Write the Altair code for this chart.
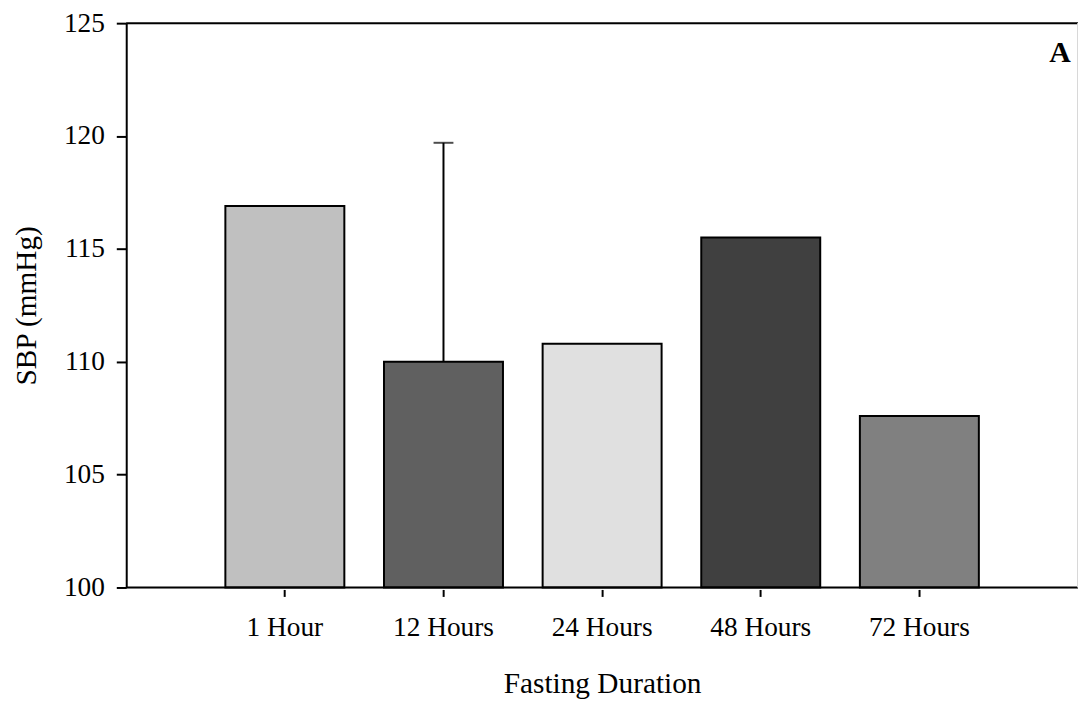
import altair as alt
import pandas as pd

categories = ["1 Hour", "12 Hours", "24 Hours", "48 Hours", "72 Hours"]
sbp = [116.9, 110.0, 110.8, 115.5, 107.6]
colors = ["#c0c0c0", "#606060", "#e0e0e0", "#404040", "#808080"]
err_cat = ["12 Hours"]
err_low = [110.0]
err_high = [119.7]
y_ticks = [100, 105, 110, 115, 120, 125]
panel_label = ["A"]

df = pd.DataFrame({"duration": categories, "sbp": sbp, "color": colors})
err = pd.DataFrame({"duration": err_cat, "low": err_low, "high": err_high})
lab = pd.DataFrame({"t": panel_label})

W, H = 958, 568
FONT = "Liberation Serif"

xscale = alt.Scale(domain=categories, paddingInner=0.25, paddingOuter=0.625)
yscale = alt.Scale(domain=[100, 125], nice=False, zero=False)

x_enc = alt.X(
    "duration:N", scale=xscale, sort=categories,
    axis=alt.Axis(title="Fasting Duration", labelAngle=0, domain=False, offset=2,
                  tickSize=7, tickWidth=2, tickColor="black", labelPadding=17,
                  labelFontSize=27.5, titleFontSize=29.5, titleFontWeight="normal",
                  titlePadding=29, labelFont=FONT, titleFont=FONT,
                  labelColor="black", titleColor="black"))
y_enc = alt.Y(
    "sbp:Q", scale=yscale,
    axis=alt.Axis(title="SBP (mmHg)", values=y_ticks, tickSize=10, tickWidth=2,
                  tickColor="black", domainColor="black", domainWidth=2,
                  labelPadding=12, labelFontSize=27.5, titleFontSize=29.5,
                  titleFontWeight="normal", titlePadding=22, labelFont=FONT,
                  titleFont=FONT, labelColor="black", titleColor="black",
                  grid=False))

bars = alt.Chart(df).mark_bar(stroke="black", strokeWidth=2).encode(
    x=x_enc, y=y_enc, y2=alt.datum(100),
    color=alt.Color("color:N", scale=None))

rule = alt.Chart(err).mark_rule(color="black", strokeWidth=2).encode(
    x=alt.X("duration:N", scale=xscale, sort=categories),
    y=alt.Y("low:Q", scale=yscale), y2="high:Q")

cap = alt.Chart(err).mark_tick(color="black", thickness=2, size=20).encode(
    x=alt.X("duration:N", scale=xscale, sort=categories),
    y=alt.Y("high:Q", scale=yscale))

top_line = alt.Chart(lab).mark_rule(color="black", strokeWidth=2).encode(
    x=alt.value(0), x2=alt.value(W), y=alt.value(0))
bottom_line = alt.Chart(lab).mark_rule(color="black", strokeWidth=2).encode(
    x=alt.value(0), x2=alt.value(W), y=alt.value(H))
right_line = alt.Chart(lab).mark_rule(color="#d8d8d8", strokeWidth=1).encode(
    x=alt.value(W - 0.5), y=alt.value(0), y2=alt.value(H))

label = alt.Chart(lab).mark_text(font=FONT, fontSize=30, fontWeight="bold",
                                 color="black", align="center",
                                 baseline="middle").encode(
    text="t:N", x=alt.value(940), y=alt.value(30))

chart = alt.layer(bars, rule, cap, top_line, bottom_line, right_line, label).properties(
    width=W, height=H,
    autosize=alt.AutoSizeParams(type="none"),
    padding={"left": 119, "top": 13, "right": 0, "bottom": 112},
).configure_view(stroke=None).configure(font=FONT, background="white")

chart.save("out.html", embed_options={"renderer": "svg", "actions": False})
